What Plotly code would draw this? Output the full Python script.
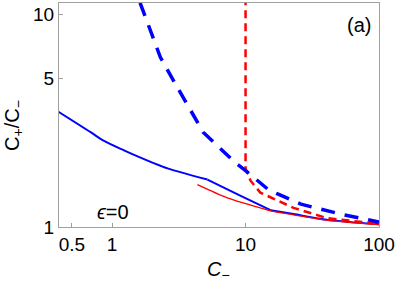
import plotly.graph_objects as go

# Blue solid curve (three pieces, kinks near 5 and 15)
blue_solid_x1 = [0.393, 0.695, 0.855, 1.25, 2.30, 2.64, 5.18]
blue_solid_y1 = [3.49, 2.78, 2.55, 2.28, 1.94, 1.88, 1.67]
blue_solid_x2 = [5.18, 9.2, 15.4]
blue_solid_y2 = [1.67, 1.40, 1.20]
blue_solid_x3 = [15.4, 22.9, 41.4, 100]
blue_solid_y3 = [1.20, 1.15, 1.08, 1.03]

# Red thin solid curve
red_solid_x = [4.36, 7.3, 12.9, 15.4, 22.9, 41.4, 100]
red_solid_y = [1.58, 1.37, 1.23, 1.19, 1.14, 1.075, 1.025]

# Blue dashed curve
blue_dash_x = [1.62, 2.30, 3.08, 4.36, 4.83, 8.4, 10, 14.6, 17.4, 26, 51.5, 100]
blue_dash_y = [11.3, 6.27, 4.53, 3.09, 2.78, 2.0, 1.84, 1.51, 1.43, 1.28, 1.15, 1.055]

# Red dashed curve
red_dash_x = [10, 10, 10.9, 12.9, 22.9, 41, 100]
red_dash_y = [12, 1.88, 1.65, 1.45, 1.23, 1.10, 1.035]

x_ticks = [0.5, 1, 10, 100]
x_ticktext = ["0.5", "1", "10", "100"]
y_ticks = [1, 5, 10]
y_ticktext = ["1", "5", "10"]

FONT = "Liberation Sans"

fig = go.Figure()
fig.add_trace(go.Scatter(x=blue_solid_x1, y=blue_solid_y1, mode="lines",
                         line=dict(color="#0000ff", width=2, shape="spline", smoothing=1.0)))
fig.add_trace(go.Scatter(x=blue_solid_x2, y=blue_solid_y2, mode="lines",
                         line=dict(color="#0000ff", width=2, shape="spline", smoothing=0.5)))
fig.add_trace(go.Scatter(x=blue_solid_x3, y=blue_solid_y3, mode="lines",
                         line=dict(color="#0000ff", width=2, shape="spline", smoothing=0.8)))
fig.add_trace(go.Scatter(x=red_solid_x, y=red_solid_y, mode="lines",
                         line=dict(color="#ff0000", width=1.3, shape="spline", smoothing=0.8)))
fig.add_trace(go.Scatter(x=red_dash_x, y=red_dash_y, mode="lines",
                         line=dict(color="#ff0000", width=2.5, dash="8px,5px")))
fig.add_trace(go.Scatter(x=blue_dash_x, y=blue_dash_y, mode="lines",
                         line=dict(color="#0000ff", width=3.5, dash="14px,10px")))

axis_common = dict(showgrid=False, zeroline=False, showline=True, mirror=True,
                   linecolor="#a0a0a0", linewidth=1, ticks="inside", ticklen=4,
                   tickcolor="#a0a0a0", automargin=False,
                   tickfont=dict(family=FONT, size=19, color="black"))

fig.update_xaxes(type="log", range=[-0.398, 2.0], tickvals=x_ticks, ticktext=x_ticktext,
                 **axis_common)
fig.update_yaxes(type="log", range=[0, 1.052], tickvals=y_ticks, ticktext=y_ticktext,
                 **axis_common)

L, T, W, H = 59, 3, 320, 224


def px(x, y):
    return (x - L) / W, (T + H - y) / H


def add_text(x, y, text, angle=0):
    ax, ay = px(x, y)
    fig.add_annotation(x=ax, y=ay, xref="paper", yref="paper", text=text,
                       showarrow=False, textangle=angle, xanchor="center", yanchor="middle",
                       font=dict(family=FONT, size=20, color="black"))


add_text(218, 270, "<i>C</i><sub>−</sub>")
add_text(14, 126, "C<sub>+</sub>/C<sub>−</sub>", angle=-90)
add_text(113, 212, "<i>ϵ</i>=0")
add_text(359, 25, "(a)")

fig.update_layout(width=399, height=287, margin=dict(l=L, r=399 - L - W, t=T, b=287 - T - H),
                  paper_bgcolor="white", plot_bgcolor="white", showlegend=False)

fig.write_html("out.html", config={"displayModeBar": False},
               post_script="document.body.style.margin='0px';")
